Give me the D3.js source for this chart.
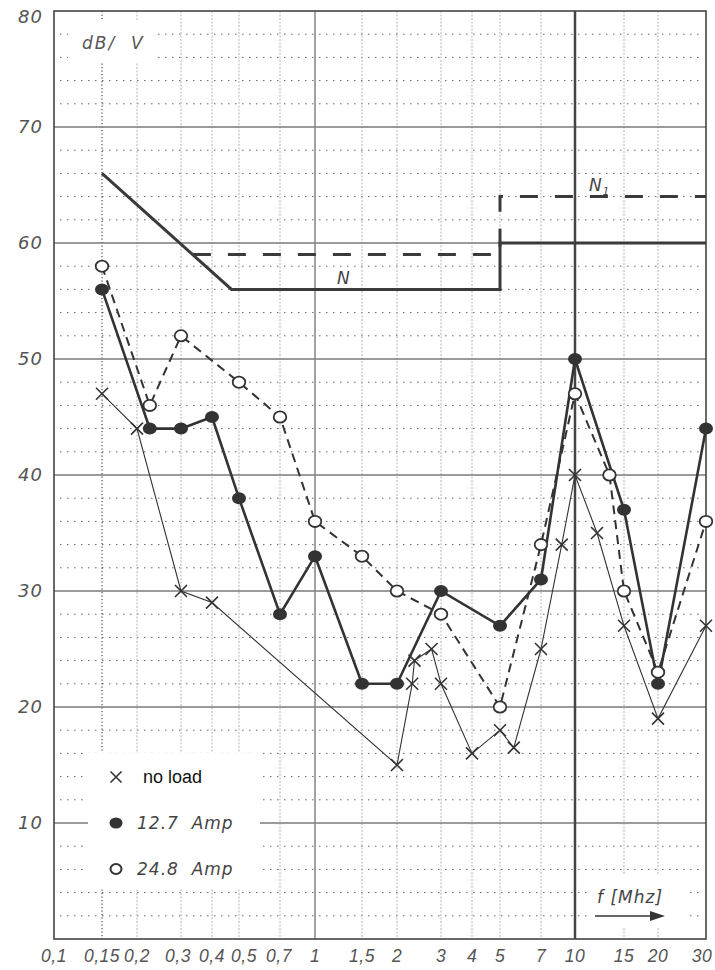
<!DOCTYPE html>
<html>
<head>
<meta charset="utf-8">
<script src="https://cdn.jsdelivr.net/npm/d3@7"></script>
<style>
  html, body { margin: 0; padding: 0; background: #fff; }
  svg { display: block; }
  text { font-family: "DejaVu Sans", sans-serif; }
</style>
</head>
<body>
<svg id="chart" width="715" height="970"></svg>
<script>
// ---------------- DATA ----------------
const xTicks = [0.1, 0.15, 0.2, 0.3, 0.4, 0.5, 0.7, 1, 1.5, 2, 3, 4, 5, 7, 10, 15, 20, 30];
const xTickLabels = ["0,1", "0,15", "0,2", "0,3", "0,4", "0,5", "0,7", "1", "1,5", "2", "3", "4", "5", "7", "10", "15", "20", "30"];
const yTicks = [10, 20, 30, 40, 50, 60, 70, 80];
const yMinor = [2, 4, 6, 8, 12, 14, 16, 18, 22, 24, 26, 28, 32, 34, 36, 38, 42, 44, 46, 48, 52, 54, 56, 58, 62, 64, 66, 68, 72, 74, 76, 78];

// no load (x markers, thin line)
const noLoadF = [0.15, 0.2, 0.3, 0.4, 2, 2.3, 2.35, 2.75, 3, 4, 5, 5.6, 7, 8.7, 10, 12, 15, 20, 30];
const noLoadDb = [47, 44, 30, 29, 15, 22, 24, 25, 22, 16, 18, 16.5, 25, 34, 40, 35, 27, 19, 27];

// 12.7 Amp (filled circles, thick solid line)
const amp127F = [0.15, 0.225, 0.3, 0.4, 0.5, 0.7, 1, 1.5, 2, 3, 5, 7, 10, 15, 20, 30];
const amp127Db = [56, 44, 44, 45, 38, 28, 33, 22, 22, 30, 27, 31, 50, 37, 22, 44];

// 24.8 Amp (open circles, dashed line)
const amp248F = [0.15, 0.225, 0.3, 0.5, 0.7, 1, 1.5, 2, 3, 5, 7, 10, 13.3, 15, 20, 30];
const amp248Db = [58, 46, 52, 48, 45, 36, 33, 30, 28, 20, 34, 47, 40, 30, 23, 36];

// limit lines
const limitNF = [0.15, 0.47, 5, 5, 30];
const limitNDb = [66, 56, 56, 60, 60];
const limitN1F = [0.335, 5, 5, 30];
const limitN1Db = [59, 59, 64, 64];

const legendLabels = ["no load", "12.7  Amp", "24.8  Amp"];

// ---------------- LAYOUT ----------------
const L = 54, T = 11, R = 706, B = 939;
// hand-drawn frequency axis: pixel position of each printed tick
const xTickPos = [54, 102, 137, 181, 212, 239, 280, 315, 362, 397, 441, 472, 500, 541, 575, 624, 658, 706];
// small hand-placed nudges of some tick labels
const xLabelNudge = {0.3: -3, 0.5: 5, 0.7: -1, 30: -4};

const x = d3.scaleLog().domain(xTicks).range(xTickPos);
const y = d3.scaleLinear().domain([0, 80]).range([B, T]);

const ink = "#333";
const svg = d3.select("#chart");

// ---- grid ----
const g = svg.append("g");
g.selectAll(".hmin").data(yMinor).join("line")
  .attr("x1", L + 6).attr("x2", R - 4)
  .attr("y1", d => y(d)).attr("y2", d => y(d))
  .attr("stroke", "#666").attr("stroke-width", 1)
  .attr("stroke-dasharray", "1.5,5.5");
g.selectAll(".vmin").data(xTicks.filter(d => d !== 0.1 && d !== 1 && d !== 10 && d !== 30 && d !== 0.15)).join("line")
  .attr("x1", d => x(d)).attr("x2", d => x(d))
  .attr("y1", T).attr("y2", B)
  .attr("stroke", "#b5b5b5").attr("stroke-width", 1)
  .attr("stroke-dasharray", "2,1.5");
g.append("line")
  .attr("x1", x(0.15)).attr("x2", x(0.15)).attr("y1", T).attr("y2", B)
  .attr("stroke", "#222").attr("stroke-width", 1).attr("stroke-dasharray", "1.2,2.3");
g.selectAll(".hmaj").data(yTicks.filter(d => d < 80)).join("line")
  .attr("x1", L).attr("x2", R)
  .attr("y1", d => y(d)).attr("y2", d => y(d))
  .attr("stroke", "#7a7a7a").attr("stroke-width", 1.5);
g.append("line")
  .attr("x1", x(1)).attr("x2", x(1)).attr("y1", T).attr("y2", B)
  .attr("stroke", "#858585").attr("stroke-width", 1.5);
g.append("line")
  .attr("x1", x(10)).attr("x2", x(10)).attr("y1", T).attr("y2", B)
  .attr("stroke", "#444").attr("stroke-width", 2.5);

// white patches (label backgrounds)
svg.append("rect").attr("x", 68).attr("y", 20).attr("width", 85).attr("height", 43).attr("fill", "#fff");
svg.append("rect").attr("x", 88).attr("y", 753).attr("width", 172).attr("height", 136).attr("fill", "#fff");
svg.append("rect").attr("x", 590).attr("y", 874).attr("width", 100).attr("height", 54).attr("fill", "#fff");

// frame
svg.append("rect").attr("x", L).attr("y", T).attr("width", R - L).attr("height", B - T)
  .attr("fill", "none").attr("stroke", "#444").attr("stroke-width", 1.6);

// ---- axis labels ----
svg.append("g").selectAll("text").data(yTicks).join("text")
  .attr("x", 43).attr("y", d => Math.max(y(d), 17))
  .attr("dy", "0.36em").attr("text-anchor", "end")
  .attr("font-size", 18).attr("font-style", "italic").attr("fill", "#555")
  .attr("letter-spacing", 1)
  .text(d => d);

svg.append("g").selectAll("text").data(xTicks).join("text")
  .attr("x", d => x(d) + (xLabelNudge[d] || 0))
  .attr("y", 962)
  .attr("text-anchor", "middle")
  .style("font-family", "'Liberation Sans', Arial, sans-serif")
  .attr("font-size", 17.5).attr("font-style", "italic").attr("fill", "#555")
  .attr("letter-spacing", 0.5)
  .text((d, i) => xTickLabels[i]);

svg.append("text").attr("x", 82).attr("y", 49)
  .attr("font-size", 17).attr("font-style", "italic").attr("fill", "#555")
  .attr("letter-spacing", 2).style("white-space", "pre")
  .text("dB/  V");

// ---- limit lines ----
const line = d3.line().x(d => x(d[0])).y(d => y(d[1]));
svg.append("path")
  .attr("d", line(limitN1F.map((f, i) => [f, limitN1Db[i]])))
  .attr("fill", "none").attr("stroke", "#3a3a3a").attr("stroke-width", 3)
  .attr("stroke-dasharray", "18,17");
svg.append("path")
  .attr("d", line(limitNF.map((f, i) => [f, limitNDb[i]])))
  .attr("fill", "none").attr("stroke", "#3a3a3a").attr("stroke-width", 3);

svg.append("text").attr("x", 337).attr("y", 284)
  .attr("font-size", 17).attr("font-style", "italic").attr("fill", "#444").text("N");
const n1 = svg.append("text").attr("x", 589).attr("y", 191)
  .attr("font-size", 17).attr("font-style", "italic").attr("fill", "#444");
n1.append("tspan").text("N");
n1.append("tspan").attr("font-size", 10).attr("dy", 4).attr("dx", 1).text("1");

// ---- series ----
const s248 = amp248F.map((f, i) => [f, amp248Db[i]]);
const s127 = amp127F.map((f, i) => [f, amp127Db[i]]);
const s0 = noLoadF.map((f, i) => [f, noLoadDb[i]]);

svg.append("path").attr("d", line(s248))
  .attr("fill", "none").attr("stroke", ink).attr("stroke-width", 2)
  .attr("stroke-dasharray", "9,6");
svg.append("path").attr("d", line(s127))
  .attr("fill", "none").attr("stroke", ink).attr("stroke-width", 2.6);
svg.append("path").attr("d", line(s0))
  .attr("fill", "none").attr("stroke", ink).attr("stroke-width", 1.1);

function cross(sel, cx, cy, r) {
  sel.append("path")
    .attr("d", `M${cx - r},${cy - r}L${cx + r},${cy + r}M${cx - r},${cy + r}L${cx + r},${cy - r}`)
    .attr("stroke", ink).attr("stroke-width", 1.6).attr("fill", "none");
}

const mk = svg.append("g");
s248.forEach(d => {
  mk.append("ellipse").attr("cx", x(d[0])).attr("cy", y(d[1])).attr("rx", 6.3).attr("ry", 5.6)
    .attr("fill", "#fff").attr("stroke", ink).attr("stroke-width", 1.8);
});
s127.forEach(d => {
  mk.append("ellipse").attr("cx", x(d[0])).attr("cy", y(d[1])).attr("rx", 7).attr("ry", 6)
    .attr("fill", ink);
});
s0.forEach(d => cross(mk, x(d[0]), y(d[1]), 6));

// ---- legend ----
const lg = svg.append("g");
cross(lg, 116, 777, 5.5);
lg.append("text").attr("x", 143).attr("y", 783)
  .style("font-family", "'Liberation Sans', Arial, sans-serif")
  .attr("font-size", 18).attr("fill", "#111").text(legendLabels[0]);
lg.append("ellipse").attr("cx", 116).attr("cy", 823).attr("rx", 6.5).attr("ry", 5.5).attr("fill", ink);
lg.append("text").attr("x", 137).attr("y", 829)
  .attr("font-size", 17).attr("font-style", "italic").attr("fill", "#444")
  .attr("letter-spacing", 1).style("white-space", "pre").text(legendLabels[1]);
lg.append("ellipse").attr("cx", 116).attr("cy", 869).attr("rx", 5.5).attr("ry", 5)
  .attr("fill", "none").attr("stroke", ink).attr("stroke-width", 2);
lg.append("text").attr("x", 137).attr("y", 875)
  .attr("font-size", 17).attr("font-style", "italic").attr("fill", "#444")
  .attr("letter-spacing", 1).style("white-space", "pre").text(legendLabels[2]);

// ---- frequency label + arrow ----
svg.append("text").attr("x", 597).attr("y", 903)
  .attr("font-size", 17).attr("font-style", "italic").attr("fill", "#444")
  .attr("letter-spacing", 1).text("f [Mhz]");
svg.append("line").attr("x1", 595).attr("x2", 652).attr("y1", 916).attr("y2", 916)
  .attr("stroke", ink).attr("stroke-width", 1.5);
svg.append("path").attr("d", "M650,911L665,916L650,921Z").attr("fill", ink);
</script>
</body>
</html>
